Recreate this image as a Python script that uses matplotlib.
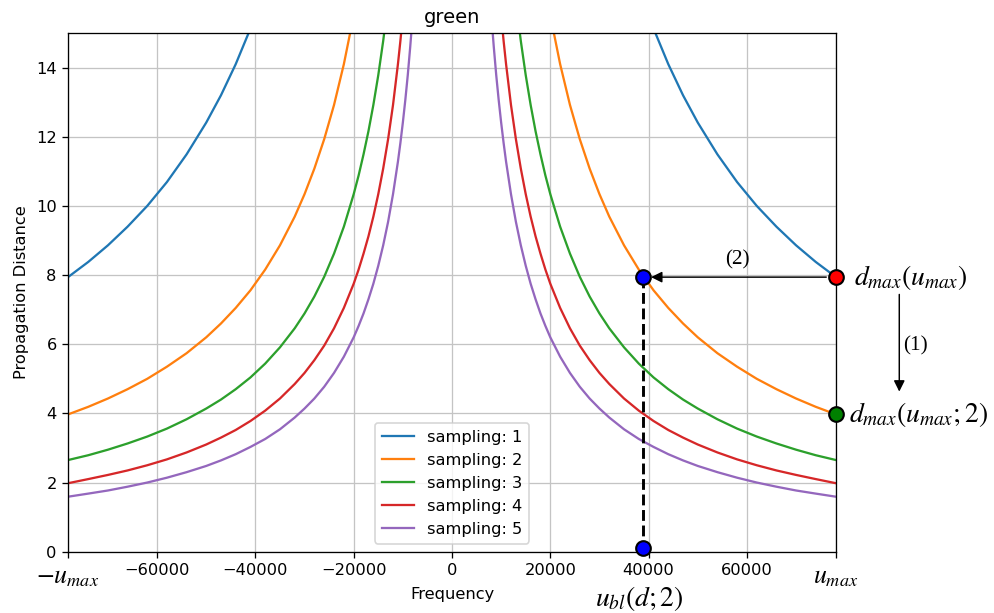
import matplotlib
matplotlib.use('Agg')
import matplotlib.pyplot as plt

# Values (positive side; the plot is mirrored)
u_max = 78125
freq_1 = [78125, 74000, 70000, 66000, 62000, 58000, 54000, 50000, 47000, 44000, 41000]
dist_1 = [7.94, 8.38, 8.86, 9.40, 10.00, 10.69, 11.49, 12.41, 13.20, 14.10, 15.13]
freq_2 = [78125, 74000, 70000, 66000, 62000, 58000, 54000, 50000, 47000, 44000, 41000,
          38000, 35000, 32000, 30000, 28000, 26000, 24000, 22000, 20000]
dist_2 = [3.97, 4.19, 4.43, 4.70, 5.00, 5.35, 5.74, 6.20, 6.60, 7.05, 7.56,
          8.16, 8.86, 9.69, 10.34, 11.08, 11.93, 12.92, 14.10, 15.51]
freq_3 = [78125, 74000, 70000, 66000, 62000, 58000, 54000, 50000, 47000, 44000, 41000,
          38000, 35000, 32000, 30000, 28000, 26000, 24000, 22000, 20000, 19000, 18000,
          17000, 16000, 15000, 14000, 13000]
dist_3 = [2.65, 2.79, 2.95, 3.13, 3.33, 3.56, 3.83, 4.14, 4.40, 4.70, 5.04,
          5.44, 5.91, 6.46, 6.89, 7.38, 7.95, 8.62, 9.40, 10.34, 10.88, 11.49,
          12.16, 12.92, 13.78, 14.77, 15.91]
freq_4 = [78125, 74000, 70000, 66000, 62000, 58000, 54000, 50000, 47000, 44000, 41000,
          38000, 35000, 32000, 30000, 28000, 26000, 24000, 22000, 20000, 19000, 18000,
          17000, 16000, 15000, 14000, 13000, 12000, 11000, 10500, 10000]
dist_4 = [1.98, 2.10, 2.22, 2.35, 2.50, 2.67, 2.87, 3.10, 3.30, 3.52, 3.78,
          4.08, 4.43, 4.85, 5.17, 5.54, 5.96, 6.46, 7.05, 7.75, 8.16, 8.62,
          9.12, 9.69, 10.34, 11.08, 11.93, 12.92, 14.10, 14.77, 15.51]
freq_5 = [78125, 74000, 70000, 66000, 62000, 58000, 54000, 50000, 47000, 44000, 41000,
          38000, 35000, 32000, 30000, 28000, 26000, 24000, 22000, 20000, 19000, 18000,
          17000, 16000, 15000, 14000, 13000, 12000, 11000, 10500, 10000, 9500, 9000,
          8500, 8000]
dist_5 = [1.59, 1.68, 1.77, 1.88, 2.00, 2.14, 2.30, 2.48, 2.64, 2.82, 3.03,
          3.26, 3.54, 3.88, 4.14, 4.43, 4.77, 5.17, 5.64, 6.20, 6.53, 6.89,
          7.30, 7.75, 8.27, 8.86, 9.54, 10.34, 11.28, 11.82, 12.41, 13.06, 13.78,
          14.60, 15.51]

curves = [(freq_1, dist_1), (freq_2, dist_2), (freq_3, dist_3),
          (freq_4, dist_4), (freq_5, dist_5)]
labels = ['sampling: 1', 'sampling: 2', 'sampling: 3', 'sampling: 4', 'sampling: 5']

d_max = 7.94
d_max_2 = 3.97
u_bl = 38900

xticks = [-u_max, -60000, -40000, -20000, 0, 20000, 40000, 60000, u_max]
xticklabels = [r'$-u_{max}$', '\u221260000', '\u221240000', '\u221220000', '0',
               '20000', '40000', '60000', r'$u_{max}$']

plt.rcParams['mathtext.fontset'] = 'stix'

fig = plt.figure(figsize=(994 / 117, 613 / 117), dpi=117)
ax = fig.add_axes([68 / 994, 1 - 551.7 / 613, (836 - 68) / 994, (551.7 - 33) / 613])

colors = ['C0', 'C1', 'C2', 'C3', 'C4']
for (f, d), lab, c in zip(curves, labels, colors):
    ax.plot(f, d, color=c, label=lab, lw=1.4)
    ax.plot([-v for v in f], d, color=c, lw=1.4)

ax.set_xlim(-u_max, u_max)
ax.set_ylim(0, 15)
ax.set_xticks(xticks)
ax.set_xticklabels(xticklabels)
for lab in ax.get_xticklabels()[::8]:
    lab.set_fontsize(16)
ax.grid(True, color='#c4c4c4')
ax.set_title('green')
ax.set_xlabel('Frequency')
ax.xaxis.set_label_coords(0.5, -0.068)
ax.set_ylabel('Propagation Distance')
ax.legend(loc='lower center')

# annotations
ax.plot([u_bl, u_bl], [d_max, 0.1], color='black', ls='--', lw=1.8, zorder=5)
ax.annotate('', xy=(u_bl + 1600, d_max), xytext=(u_max, d_max),
            arrowprops=dict(arrowstyle='-|>', color='black', lw=0.9,
                            shrinkA=6, shrinkB=0, mutation_scale=14),
            annotation_clip=False)
ax.annotate('', xy=(91000, 4.63), xytext=(91000, 7.44),
            arrowprops=dict(arrowstyle='-|>', color='black', lw=0.9,
                            shrinkA=0, shrinkB=0, mutation_scale=14),
            annotation_clip=False)
ax.text(58000, 8.45, '(2)', family='Liberation Serif', fontsize=13,
        ha='center', va='center')
ax.text(94200, 5.95, '(1)', family='Liberation Serif', fontsize=13,
        ha='center', va='center', clip_on=False)

ax.plot(u_max, d_max, 'o', color='red', mec='black', mew=1.3, ms=9,
        clip_on=False, zorder=10)
ax.plot(u_max, d_max_2, 'o', color='green', mec='black', mew=1.3, ms=9,
        clip_on=False, zorder=10)
ax.plot(u_bl, d_max, 'o', color='blue', mec='black', mew=1.3, ms=9,
        clip_on=False, zorder=10)
ax.plot(u_bl, 0.1, 'o', color='blue', mec='black', mew=1.3, ms=9,
        clip_on=False, zorder=10)

ax.text(81700, d_max, r'$d_{max}(u_{max})$', fontsize=17, ha='left',
        va='center', clip_on=False)
ax.text(80700, d_max_2, r'$d_{max}(u_{max};2)$', fontsize=17, ha='left',
        va='center', clip_on=False)
ax.text(u_bl - 800, -1.35, r'$u_{bl}(d;2)$', fontsize=17, ha='center',
        va='center', clip_on=False)

fig.savefig('out.png', dpi=117)
